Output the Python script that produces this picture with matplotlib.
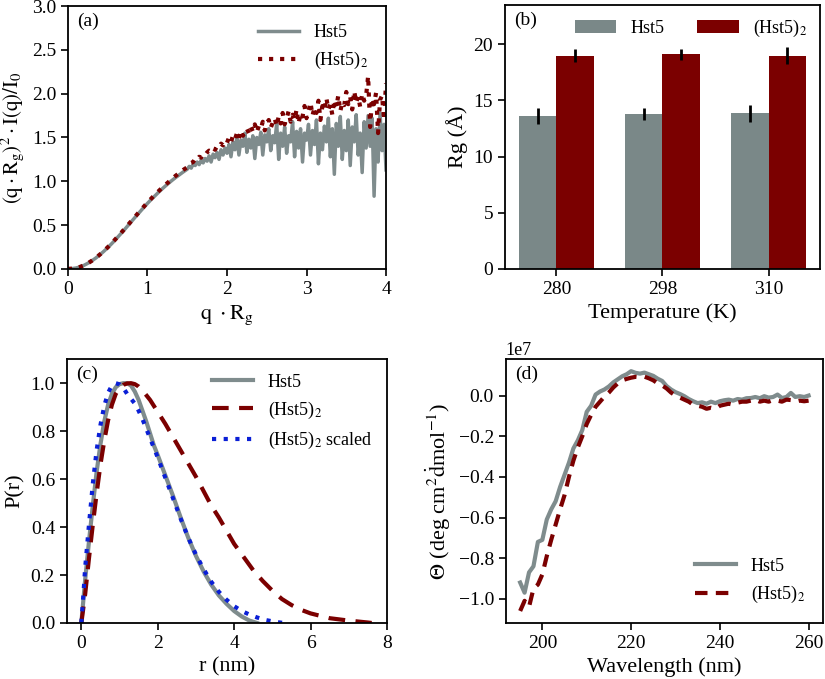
"""
Four-panel figure: Kratky plot, Rg bars, P(r) distributions and CD spectra
for Hst5 and (Hst5)2.
"""

import numpy as np
import matplotlib
matplotlib.use("Agg")
import matplotlib.pyplot as plt

plt.rcParams["font.family"] = ["Liberation Serif", "DejaVu Serif"]
plt.rcParams["mathtext.fontset"] = "stix"
plt.rcParams["axes.linewidth"] = 1.3

GRAY = "#7f8c8d"
RED = "#7b0000"
BLUE = "#0a1fd6"

# ---- (a) dimensionless Kratky plot ----
q_smooth = np.arange(0.0, 1.5001, 0.05)
q_noisy = np.arange(1.525, 4.0001, 0.025)

kr_hst5_smooth = [0.0, 0.003, 0.01, 0.022, 0.04, 0.064, 0.092, 0.124, 0.16, 0.20,
                  0.243, 0.288, 0.336, 0.386, 0.437, 0.49, 0.543, 0.595, 0.647, 0.698,
                  0.748, 0.795, 0.84, 0.884, 0.926, 0.966, 1.004, 1.04, 1.074, 1.107, 1.138]
kr_hst5_noisy = [1.17, 1.15, 1.20, 1.18, 1.22, 1.19, 1.24, 1.21, 1.26, 1.23,
                 1.29, 1.22, 1.31, 1.27, 1.33, 1.25, 1.36, 1.30, 1.38, 1.32,
                 1.42, 1.28, 1.45, 1.36, 1.50, 1.30, 1.47, 1.40, 1.55, 1.33,
                 1.48, 1.38, 1.52, 1.26, 1.50, 1.42, 1.56, 1.30, 1.53, 1.45,
                 1.60, 1.35, 1.52, 1.44, 1.66, 1.25, 1.55, 1.40, 1.62, 1.32,
                 1.52, 1.45, 1.68, 1.28, 1.57, 1.38, 1.60, 1.22, 1.55, 1.47,
                 1.65, 1.30, 1.58, 1.42, 1.70, 1.20, 1.55, 1.36, 1.63, 1.45,
                 1.72, 1.28, 1.60, 1.08, 1.66, 1.40, 1.74, 1.25, 1.58, 1.35,
                 1.70, 1.18, 1.62, 1.45, 1.76, 1.30, 1.55, 1.10, 1.68, 1.38,
                 1.75, 1.40, 1.72, 0.83, 1.60, 1.22, 1.78, 1.35, 1.65, 1.13]

kr_dimer_smooth = [0.0, 0.003, 0.01, 0.022, 0.04, 0.064, 0.093, 0.126, 0.163, 0.203,
                   0.247, 0.293, 0.342, 0.392, 0.444, 0.497, 0.55, 0.602, 0.655, 0.707,
                   0.758, 0.806, 0.853, 0.897, 0.94, 0.98, 1.02, 1.06, 1.095, 1.13, 1.16]
kr_dimer_noisy = [1.19, 1.21, 1.22, 1.26, 1.25, 1.28, 1.27, 1.31, 1.30, 1.33,
                  1.35, 1.34, 1.38, 1.36, 1.40, 1.39, 1.43, 1.41, 1.46, 1.44,
                  1.50, 1.45, 1.52, 1.48, 1.55, 1.49, 1.58, 1.52, 1.56, 1.60,
                  1.55, 1.62, 1.57, 1.65, 1.56, 1.63, 1.60, 1.68, 1.58, 1.66,
                  1.70, 1.61, 1.67, 1.72, 1.63, 1.74, 1.66, 1.78, 1.65, 1.72,
                  1.80, 1.68, 1.76, 1.70, 1.82, 1.66, 1.78, 1.74, 1.86, 1.72,
                  1.80, 1.90, 1.75, 1.84, 1.78, 1.92, 1.70, 1.86, 1.81, 1.95,
                  1.82, 1.88, 1.76, 1.93, 1.85, 1.98, 1.80, 1.90, 1.87, 2.02,
                  1.88, 1.96, 1.82, 2.03, 1.90, 1.97, 1.85, 2.00, 1.92, 1.98,
                  2.20, 1.62, 1.95, 1.88, 2.01, 1.55, 1.93, 1.98, 1.70, 2.12]

# ---- (b) radius of gyration ----
temperatures = ["280", "298", "310"]
rg_hst5 = [13.6, 13.8, 13.85]
rg_hst5_err = [0.7, 0.55, 0.75]
rg_dimer = [19.0, 19.1, 19.0]
rg_dimer_err = [0.6, 0.5, 0.75]

# ---- (c) pair distance distributions ----
r_hst5 = [0, 0.05, 0.1, 0.2, 0.3, 0.4, 0.5, 0.6, 0.7, 0.8, 0.9, 1.0, 1.1, 1.2, 1.3,
          1.4, 1.5, 1.6, 1.7, 1.8, 1.9, 2.0, 2.2, 2.4, 2.6, 2.8, 3.0, 3.2, 3.4, 3.6,
          3.8, 4.0, 4.2, 4.4, 4.6]
p_hst5 = [0, 0.09, 0.18, 0.34, 0.49, 0.63, 0.745, 0.84, 0.91, 0.955, 0.983, 0.996, 1.0,
          1.0, 0.99, 0.965, 0.93, 0.885, 0.84, 0.79, 0.74, 0.70, 0.615, 0.53, 0.44,
          0.355, 0.28, 0.215, 0.16, 0.115, 0.08, 0.05, 0.027, 0.01, 0.0]

r_dimer = [0, 0.05, 0.1, 0.2, 0.3, 0.4, 0.5, 0.6, 0.7, 0.8, 0.9, 1.0, 1.1, 1.2, 1.3,
           1.4, 1.5, 1.6, 1.8, 2.0, 2.2, 2.4, 2.6, 2.8, 3.0, 3.2, 3.4, 3.6, 3.8, 4.0,
           4.25, 4.5, 4.75, 5.0, 5.25, 5.5, 5.75, 6.0, 6.5, 7.0, 7.5, 7.6]
p_dimer = [0, 0.06, 0.12, 0.27, 0.41, 0.54, 0.66, 0.76, 0.845, 0.91, 0.955, 0.98,
           0.993, 0.999, 1.0, 0.996, 0.986, 0.97, 0.93, 0.88, 0.83, 0.775, 0.72, 0.665,
           0.61, 0.55, 0.49, 0.44, 0.385, 0.33, 0.275, 0.22, 0.175, 0.135, 0.10, 0.075,
           0.055, 0.04, 0.02, 0.01, 0.002, 0.0]

r_scaled = [0, 0.05, 0.1, 0.2, 0.3, 0.4, 0.5, 0.6, 0.7, 0.8, 0.9, 1.0, 1.1, 1.2, 1.3,
            1.4, 1.5, 1.6, 1.7, 1.8, 2.0, 2.2, 2.4, 2.6, 2.8, 3.0, 3.2, 3.4, 3.6, 3.8,
            4.0, 4.2, 4.4, 4.6, 4.8, 5.0, 5.2, 5.3]
p_scaled = [0, 0.11, 0.23, 0.41, 0.58, 0.72, 0.825, 0.905, 0.96, 0.99, 1.0, 0.995,
            0.98, 0.955, 0.935, 0.915, 0.885, 0.85, 0.81, 0.77, 0.69, 0.605, 0.52,
            0.435, 0.355, 0.285, 0.225, 0.172, 0.13, 0.097, 0.07, 0.05, 0.035, 0.023,
            0.013, 0.007, 0.002, 0.0]

# ---- (d) circular dichroism (units of 1e7) ----
wavelength = np.arange(195, 261, 1)
cd_hst5 = [-0.92, -0.97, -0.87, -0.84, -0.72, -0.71, -0.61, -0.56, -0.52, -0.45,
           -0.39, -0.33, -0.26, -0.22, -0.17, -0.08, -0.05, 0.005, 0.02, 0.03,
           0.045, 0.065, 0.08, 0.095, 0.105, 0.12, 0.112, 0.108, 0.113, 0.105,
           0.097, 0.083, 0.072, 0.047, 0.03, 0.017, 0.008, -0.003, -0.017, -0.028,
           -0.037, -0.033, -0.04, -0.03, -0.037, -0.028, -0.023, -0.02, -0.025, -0.017,
           -0.02, -0.013, -0.012, -0.007, -0.013, -0.003, -0.01, -0.007, 0.005, -0.012,
           -0.007, 0.013, -0.007, -0.003, -0.007, 0.0]
cd_dimer = [-1.06, -1.01, -1.04, -0.95, -0.93, -0.88, -0.79, -0.71, -0.635, -0.56,
            -0.49, -0.40, -0.32, -0.255, -0.20, -0.14, -0.095, -0.055, -0.03, -0.005,
            0.015, 0.04, 0.06, 0.075, 0.082, 0.088, 0.092, 0.09, 0.093, 0.085,
            0.075, 0.06, 0.05, 0.035, 0.015, 0.0, -0.01, -0.02, -0.03, -0.045,
            -0.05, -0.055, -0.065, -0.06, -0.065, -0.05, -0.045, -0.04, -0.045, -0.035,
            -0.03, -0.03, -0.025, -0.02, -0.03, -0.025, -0.03, -0.022, -0.025, -0.03,
            -0.02, -0.022, -0.03, -0.025, -0.028, -0.025]

LEG = dict(frameon=False, fontsize=13, handlelength=2.3, handletextpad=0.8,
           labelspacing=0.5)


def style_axes(ax, label):
    ax.tick_params(direction="out", length=5, width=1.2, labelsize=14,
                   top=False, right=False)
    ax.text(0.03, 0.975, label, transform=ax.transAxes, va="top", ha="left",
            fontsize=14)


fig = plt.figure(figsize=(8.25, 6.79), dpi=100)
ax_a = fig.add_axes([0.0824, 0.604, 0.3855, 0.387])
ax_b = fig.add_axes([0.612, 0.604, 0.382, 0.3886])
ax_c = fig.add_axes([0.081, 0.0825, 0.388, 0.3885])
ax_d = fig.add_axes([0.613, 0.0825, 0.3846, 0.3885])

# (a)
q_all = np.concatenate([q_smooth, q_noisy])
ax_a.plot(q_all, kr_hst5_smooth + kr_hst5_noisy, color=GRAY, lw=2.5, label="Hst5")
ax_a.plot(q_all, kr_dimer_smooth + kr_dimer_noisy, color=RED, lw=3, ls=":",
          label="(Hst5)$_2$")
ax_a.set_xlim(0, 4)
ax_a.set_ylim(0, 3)
ax_a.set_xticks([0, 1, 2, 3, 4])
ax_a.set_xlabel(r"$\mathrm{q\ \cdot R_g}$", fontsize=16)
ax_a.set_ylabel(r"$\mathrm{(q\cdot R_g)^2\cdot I(q)/I_0}$", fontsize=15)
ax_a.legend(loc="upper right", borderaxespad=0.6, **LEG)
style_axes(ax_a, "(a)")

# (b)
x = np.arange(len(temperatures))
w = 0.35
ax_b.bar(x - w / 2, rg_hst5, w, yerr=rg_hst5_err, color="#7a8888",
         error_kw=dict(elinewidth=2, ecolor="black"), label="Hst5")
ax_b.bar(x + w / 2, rg_dimer, w, yerr=rg_dimer_err, color=RED,
         error_kw=dict(elinewidth=2, ecolor="black"), label="(Hst5)$_2$")
ax_b.set_xticks(x)
ax_b.set_xticklabels(temperatures)
ax_b.set_ylim(0, 23.5)
ax_b.set_yticks([0, 5, 10, 15, 20])
ax_b.set_xlabel("Temperature (K)", fontsize=16)
ax_b.set_ylabel("Rg (Å)", fontsize=16)
ax_b.legend(loc="upper right", ncol=2, columnspacing=1.8, borderaxespad=0.3,
            **LEG)
style_axes(ax_b, "(b)")

# (c)
ax_c.plot(r_hst5, p_hst5, color=GRAY, lw=3, label="Hst5")
ax_c.plot(r_dimer, p_dimer, color=RED, lw=3, ls=(0, (4, 2.5)), label="(Hst5)$_2$")
ax_c.plot(r_scaled, p_scaled, color=BLUE, lw=3, ls=(0, (1, 1.8)),
          label="(Hst5)$_2$ scaled")
ax_c.set_xlim(-0.38, 8)
ax_c.set_ylim(0, 1.1)
ax_c.set_xticks([0, 2, 4, 6, 8])
ax_c.set_xlabel("r (nm)", fontsize=16)
ax_c.set_ylabel("P(r)", fontsize=16)
ax_c.legend(loc="upper right", borderaxespad=0.4, **LEG)
style_axes(ax_c, "(c)")

# (d)
ax_d.plot(wavelength, np.array(cd_hst5) * 1e7, color=GRAY, lw=3, label="Hst5")
ax_d.plot(wavelength, np.array(cd_dimer) * 1e7, color=RED, lw=3, ls=(0, (3, 2)),
          label="(Hst5)$_2$")
ax_d.set_xticks([200, 220, 240, 260])
ax_d.set_yticks(np.array([-1.0, -0.8, -0.6, -0.4, -0.2, 0.0]) * 1e7)
ax_d.set_xlabel("Wavelength (nm)", fontsize=16)
ax_d.set_ylabel(r"$\Theta$ (deg cm$^2\dot{\rm d}$mol$^{-1}$)", fontsize=16)
ax_d.yaxis.get_offset_text().set_fontsize(13)
ax_d.legend(loc="lower right", borderaxespad=0.6, **LEG)
style_axes(ax_d, "(d)")

fig.savefig("out.png", dpi=100)
